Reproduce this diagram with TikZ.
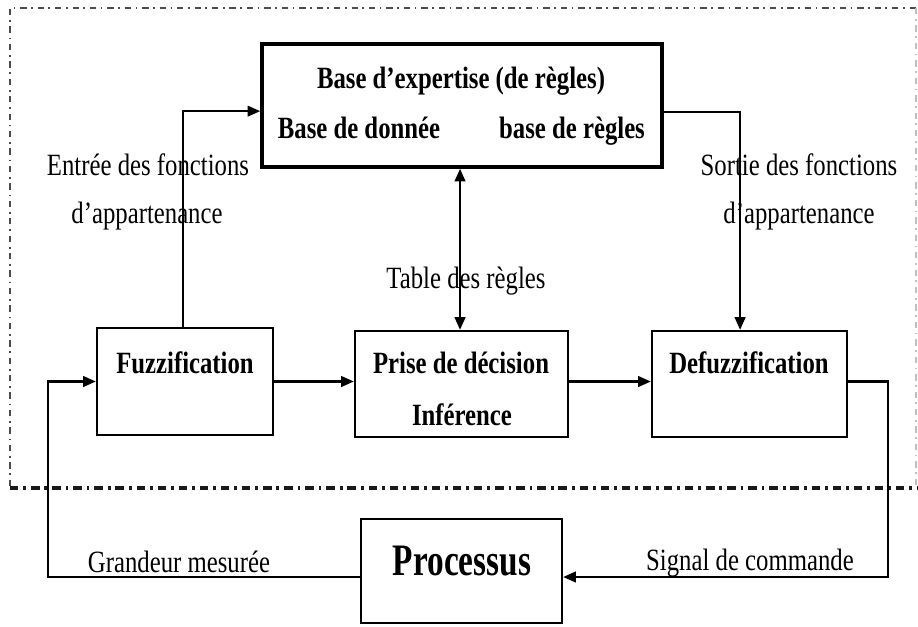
\documentclass[tikz,border=0pt]{standalone}
\usepackage{fontspec}
\setmainfont{Liberation Serif}
\usetikzlibrary{arrows.meta, calc}

\begin{document}
\begin{tikzpicture}[x=0.025cm, y=-0.025cm, line width=1.6pt,
  bloc/.style={draw, rectangle, inner sep=0pt},
  fleche/.style={-{Triangle[length=9pt, width=7.5pt]}},
  texte/.style={font=\fontsize{22}{26}\selectfont, xscale=0.8, transform shape, anchor=base, inner sep=0pt},
  gras/.style={texte, font=\fontsize{22}{26}\selectfont\bfseries},
  grand/.style={font=\fontsize{32}{36}\selectfont\bfseries, xscale=0.74, transform shape, anchor=base, inner sep=0pt},
  cadre/.style={draw=black!70, line width=1pt, dash pattern=on 4.5pt off 3.2pt on 1.2pt off 3.5pt}]

\useasboundingbox (0,0) rectangle (918,626);

% Dash-dot frame round the fuzzy controller
\draw[cadre] (10,486) |- (916,8);
\draw[cadre, draw=black!25] (916,8) -- (916,486);
\draw[cadre, draw=black!90, line width=2.2pt, dash pattern=on 6pt off 3.5pt on 2pt off 3.5pt] (10,488) -- (918,488);

% Blocks
\node[bloc, line width=2.4pt, minimum width=10cm, minimum height=3.075cm] (base) at (462,105.5) {};
\node[bloc, minimum width=4.4cm, minimum height=2.675cm] (fuzz) at (185,381.5) {};
\node[bloc, minimum width=5.325cm, minimum height=2.65cm] (prise) at (461.5,384) {};
\node[bloc, minimum width=4.875cm, minimum height=2.65cm] (defuzz) at (749.5,384) {};
\node[bloc, minimum width=5.025cm, minimum height=2.6cm] (proc) at (461.5,571) {};

% Texts inside the blocks
\node[gras] (titre) at (461,88) {Base d’expertise (de règles)};
\node[gras] (donnee) at (359,138) {Base de donnée};
\node[gras] (regles) at (572,138) {base de règles};
\node[gras] (fuzzT) at (185,373) {Fuzzification};
\node[gras] (priseT) at (461,373) {Prise de décision};
\node[gras] (inferT) at (462,425) {Inférence};
\node[gras] (defuzzT) at (749,373) {Defuzzification};
\node[grand] (procT) at (462,575) {Processus};

% Labels of the connectors
\node[texte] (entree1) at (148,175) {Entrée des fonctions};
\node[texte] (entree2) at (147,223) {d’appartenance};
\node[texte] (sortie1) at (799,175) {Sortie des fonctions};
\node[texte] (sortie2) at (799,223) {d’appartenance};
\node[texte] (table) at (466,288) {Table des règles};
\node[texte] (grandeur) at (179,572) {Grandeur mesurée};
\node[texte] (signal) at (750,570) {Signal de commande};

% Corners of the feedback loop
\coordinate (coinD) at (888,577);
\coordinate (coinG) at (48,577);

% Connectors
\draw[fleche] ([xshift=-1.4pt]fuzz.north) |- ([yshift=-4pt]base.west);
\draw[fleche] ([yshift=-4.5pt]base.east) -| ([xshift=-6.7pt]defuzz.north);
\draw[{Triangle[length=9pt, width=7.5pt]}-{Triangle[length=9pt, width=7.5pt]}]
  ([xshift=-1.4pt]base.south) -- ([xshift=-1.4pt]base.south |- prise.north);
\draw[fleche] (fuzz.east) -- (fuzz.east -| prise.west);
\draw[fleche] (fuzz.east -| prise.east) -- (fuzz.east -| defuzz.west);
\draw[fleche] (fuzz.east -| defuzz.east) -| (coinD) -- (coinD -| proc.east);
\draw[fleche] (coinG -| proc.west) -- (coinG) |- (fuzz.west);

\end{tikzpicture}
\end{document}
